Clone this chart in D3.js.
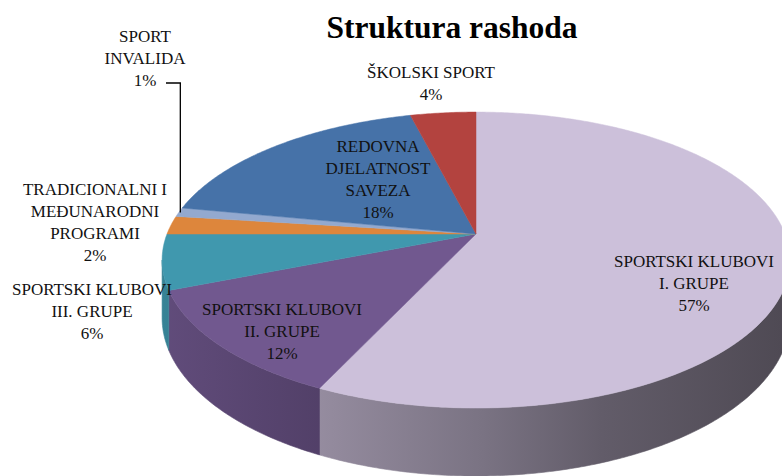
<!DOCTYPE html>
<html lang="hr">
<head>
<meta charset="UTF-8">
<script src="https://d3js.org/d3.v7.min.js"></script>
<style>
  body { margin: 0; background: #fff; }
  .title { font-family: "Liberation Serif", serif; font-weight: bold; font-size: 31.5px; fill: #000; }
  .lbl { font-family: "Liberation Serif", serif; font-size: 17px; fill: #111; }
</style>
</head>
<body>
<svg class="chart"></svg>
<script>

// data
const categories = [
  "SPORTSKI KLUBOVI I. GRUPE",
  "SPORTSKI KLUBOVI II. GRUPE",
  "SPORTSKI KLUBOVI III. GRUPE",
  "TRADICIONALNI I MEĐUNARODNI PROGRAMI",
  "SPORT INVALIDA",
  "REDOVNA DJELATNOST SAVEZA",
  "ŠKOLSKI SPORT"
];
const values = [57, 12, 6, 2, 1, 18, 4];
const labelLines = [
  ["SPORTSKI KLUBOVI", "I. GRUPE"],
  ["SPORTSKI KLUBOVI", "II. GRUPE"],
  ["SPORTSKI KLUBOVI", "III. GRUPE"],
  ["TRADICIONALNI I", "MEĐUNARODNI", "PROGRAMI"],
  ["SPORT", "INVALIDA"],
  ["REDOVNA", "DJELATNOST", "SAVEZA"],
  ["ŠKOLSKI SPORT"]
];
const colors = ["#ccc0da", "#71588f", "#4098ae", "#dd863c", "#93a9cf", "#4672a8", "#b3433f"];

// layout
const width = 782, height = 476;
const cx = 476, cy = 234;     // hub
const RX = 309, RY = 143.4;   // radii of the top face
const P = 0.176;              // perspective strength
const H = 56;                 // thickness
const lineH = 22;
// anchor (centre x, first baseline) of each label block
const labelPos = [[694, 267], [282, 315], [92, 295], [95, 195], [145, 42], [378, 152], [431, 78]];

const svg = d3.select(".chart")
    .attr("width", width)
    .attr("height", height);

function proj(theta, r = 1) {
  const u = r * Math.sin(theta), v = -r * Math.cos(theta);
  const k = 1 / (1 - P * v);
  return [cx + RX * u * k, cy + RY * v * k, k];
}

const pie = d3.pie().sort(null).value(d => d);
const arcs = pie(values);
const line = d3.line();

function samples(a0, a1) {
  const n = Math.max(2, Math.ceil((a1 - a0) / 0.01));
  return d3.range(n + 1).map(i => a0 + (a1 - a0) * i / n);
}

// shading of the side walls
const defs = svg.append("defs");
const shadeStops = [[0, 0.86], [0.27, 0.72], [0.51, 0.6], [0.7, 0.48], [1, 0.38]];
colors.forEach((c, i) => {
  const g = defs.append("linearGradient")
      .attr("id", "side" + i)
      .attr("gradientUnits", "userSpaceOnUse")
      .attr("x1", cx - RX * 1.02).attr("x2", cx + RX * 1.02)
      .attr("y1", 0).attr("y2", 0);
  const base = d3.rgb(c);
  shadeStops.forEach(([o, f]) => {
    g.append("stop")
        .attr("offset", o)
        .attr("stop-color", d3.rgb(base.r * f, base.g * f, base.b * f).formatHex());
  });
});

// walls: only the front facing part of the rim
const frontA0 = Math.acos(-P), frontA1 = 2 * Math.PI - Math.acos(-P);
const walls = svg.append("g");
arcs.forEach((d, i) => {
  const a0 = Math.max(d.startAngle, frontA0), a1 = Math.min(d.endAngle, frontA1);
  if (a1 <= a0) return;
  const top = samples(a0, a1).map(a => proj(a));
  const bottom = top.map(p => [p[0], p[1] + H * p[2]]).reverse();
  walls.append("path")
      .attr("d", line(top.map(p => [p[0], p[1]]).concat(bottom)) + "Z")
      .attr("fill", `url(#side${i})`)
      .attr("stroke", `url(#side${i})`)
      .attr("stroke-width", 0.6);
});

// top faces
const tops = svg.append("g");
arcs.forEach((d, i) => {
  const pts = [[cx, cy]].concat(samples(d.startAngle, d.endAngle).map(a => proj(a).slice(0, 2)));
  tops.append("path")
      .attr("d", line(pts) + "Z")
      .attr("fill", colors[i])
      .attr("stroke", colors[i])
      .attr("stroke-width", 0.5);
});

// title
svg.append("text")
    .attr("class", "title")
    .attr("x", 452).attr("y", 38)
    .attr("text-anchor", "middle")
    .text("Struktura rashoda");

// labels
const total = d3.sum(values);
const labels = svg.append("g");
arcs.forEach((d, i) => {
  const [lx, ly] = labelPos[i];
  const lines = labelLines[i].concat([Math.round(values[i] / total * 100) + "%"]);
  const t = labels.append("text")
      .attr("class", "lbl")
      .attr("text-anchor", "middle");
  lines.forEach((s, j) => {
    t.append("tspan").attr("x", lx).attr("y", ly + j * lineH).text(s);
  });
});

// leader line for the small slice
const inv = arcs[4];
const tip = proj((inv.startAngle + inv.endAngle) / 2, 0.985);
const lp = labelPos[4];
svg.append("path")
    .attr("d", line([[lp[0] + 21, lp[1] + 2 * lineH - 3], [tip[0] - 3, lp[1] + 2 * lineH - 3], [tip[0] - 3, tip[1]]]))
    .attr("fill", "none")
    .attr("stroke", "#000")
    .attr("stroke-width", 1.3);

</script>
</body>
</html>
